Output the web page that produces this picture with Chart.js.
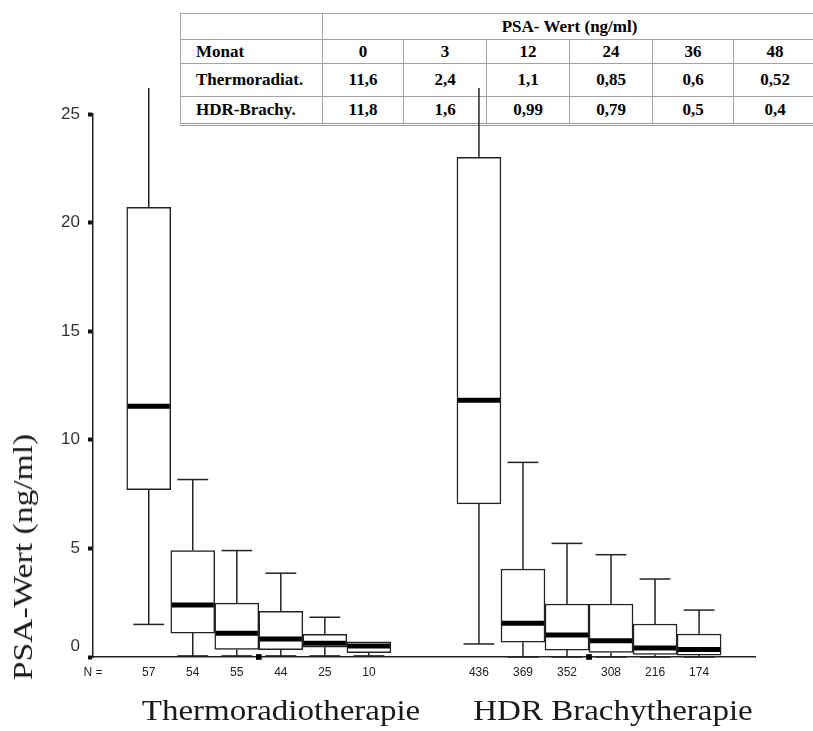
<!DOCTYPE html>
<html>
<head>
<meta charset="utf-8">
<script src="https://cdn.jsdelivr.net/npm/chart.js@4.4.1/dist/chart.umd.min.js"></script>
<style>
  html, body { margin: 0; padding: 0; background: #fff; overflow: hidden; }
  #wrap { position: relative; width: 813px; height: 731px; }
  #psaTable {
    position: absolute; left: 180px; top: 13px; z-index: 1;
    border-collapse: collapse; table-layout: fixed; width: 636px;
    font: bold 17px "Liberation Serif", "Times New Roman", serif; color: #000;
    background: #fff; border-bottom: 3px double #9a9a9a;
  }
  #psaTable td { border: 1.5px solid #a4a4a4; text-align: center; padding: 0; white-space: nowrap; }
  #psaTable td.rowHead { text-align: left; padding-left: 15px; }
  #chart { position: absolute; left: 0; top: 0; z-index: 2; }
  .title { position: absolute; z-index: 3; font-family: "Liberation Serif", "Times New Roman", serif; color: #1a1a1a; white-space: nowrap; line-height: 1; }
</style>
</head>
<body>
<div id="wrap">
  <table id="psaTable">
    <colgroup>
      <col style="width:142px"><col style="width:81px"><col style="width:83px"><col style="width:83px">
      <col style="width:83px"><col style="width:81px"><col style="width:83px">
    </colgroup>
    <tbody id="tableBody"></tbody>
  </table>
  <canvas id="chart" width="813" height="731"></canvas>
  <div class="title" id="yTitle" style="font-size:28px;left:23px;top:557px;transform:translate(-50%,-50%) rotate(-90deg) scaleX(1.2);">PSA-Wert (ng/ml)</div>
  <div class="title" style="font-size:30px;left:281px;top:695px;transform:translateX(-50%) scaleX(1.1);">Thermoradiotherapie</div>
  <div class="title" style="font-size:30px;left:613px;top:695px;transform:translateX(-50%) scaleX(1.1);">HDR Brachytherapie</div>
</div>
<script>
// table on top of the plot
const tableTitle = "PSA- Wert (ng/ml)";
const months = ["0", "3", "12", "24", "36", "48"];
const thermoTable = ["11,6", "2,4", "1,1", "0,85", "0,6", "0,52"];
const hdrTable = ["11,8", "1,6", "0,99", "0,79", "0,5", "0,4"];

// box plot values (ng/ml)
const thermoPos = [1, 2, 3, 4, 5, 6];
const thermoN = [57, 54, 55, 44, 25, 10];
const thermoLow = [1.5, 0.05, 0.05, 0.05, 0.05, 0.05];
const thermoQ1 = [7.7, 1.1, 0.35, 0.34, 0.45, 0.2];
const thermoMed = [11.55, 2.39, 1.09, 0.83, 0.63, 0.51];
const thermoQ3 = [20.7, 4.9, 2.48, 2.1, 1.04, 0.7];
const thermoHigh = [26.2, 8.17, 4.9, 3.86, 1.83, 0.7];

const hdrPos = [8.5, 9.5, 10.5, 11.5, 12.5, 13.5];
const hdrN = [436, 369, 352, 308, 216, 174];
const hdrLow = [0.6, 0, 0, 0, 0, 0];
const hdrQ1 = [7.05, 0.68, 0.32, 0.21, 0.12, 0.09];
const hdrMed = [11.82, 1.55, 1.01, 0.75, 0.41, 0.35];
const hdrQ3 = [23.0, 4.05, 2.44, 2.44, 1.52, 1.06];
const hdrHigh = [26.2, 8.96, 5.23, 4.71, 3.59, 2.16];

const groupCenters = [3.5, 11];
const nLabelPos = -0.266;
const yTicks = [0, 5, 10, 15, 20, 25];

function buildTable() {
  const rows = [
    `<tr style="height:26px"><td></td><td colspan="6">${tableTitle}</td></tr>`,
    `<tr style="height:24px"><td class="rowHead">Monat</td>${months.map((m) => `<td>${m}</td>`).join("")}</tr>`,
    `<tr style="height:33px"><td class="rowHead">Thermoradiat.</td>${thermoTable.map((v) => `<td>${v}</td>`).join("")}</tr>`,
    `<tr style="height:28px"><td class="rowHead">HDR-Brachy.</td>${hdrTable.map((v) => `<td>${v}</td>`).join("")}</tr>`,
  ];
  document.getElementById("tableBody").innerHTML = rows.join("");
}
buildTable();

const pos = thermoPos.concat(hdrPos);
const nCounts = thermoN.concat(hdrN);
const low = thermoLow.concat(hdrLow);
const q1 = thermoQ1.concat(hdrQ1);
const med = thermoMed.concat(hdrMed);
const q3 = thermoQ3.concat(hdrQ3);
const high = thermoHigh.concat(hdrHigh);

const whiskers = {
  id: "whiskers",
  afterDatasetsDraw(chart) {
    const { ctx, scales: { y } } = chart;
    const bars = chart.getDatasetMeta(0).data;
    ctx.save();
    ctx.strokeStyle = "#222";
    bars.forEach((bar, i) => {
      const x = bar.x, half = bar.width / 2, cap = bar.width * 0.35;
      ctx.lineWidth = 1.5;
      [[q3[i], high[i]], [q1[i], low[i]]].forEach(([from, to]) => {
        if (Math.abs(from - to) < 1e-6) return;
        ctx.beginPath();
        ctx.moveTo(x, y.getPixelForValue(from));
        ctx.lineTo(x, y.getPixelForValue(to));
        ctx.stroke();
        if (to <= y.max) {
          const py = y.getPixelForValue(to);
          ctx.beginPath();
          ctx.moveTo(x - cap, py);
          ctx.lineTo(x + cap, py);
          ctx.stroke();
        }
      });
      ctx.lineWidth = 5;
      ctx.strokeStyle = "#000";
      const my = y.getPixelForValue(med[i]);
      ctx.beginPath();
      ctx.moveTo(x - half + 1, my);
      ctx.lineTo(x + half - 1, my);
      ctx.stroke();
      ctx.strokeStyle = "#222";
    });
    ctx.restore();
  },
};

const sans = "'Liberation Sans', Arial, sans-serif";

new Chart(document.getElementById("chart"), {
  type: "bar",
  data: {
    datasets: [
      {
        type: "bar",
        data: pos.map((p, i) => ({ x: p, y: [q1[i], q3[i]] })),
        backgroundColor: "#fff",
        borderColor: "#222",
        borderWidth: 1.5,
        borderSkipped: false,
        categoryPercentage: 1,
        barPercentage: 1,
      },
      {
        type: "scatter",
        data: groupCenters.map((c) => ({ x: c, y: 0 })),
        pointStyle: "rect",
        radius: 4,
        backgroundColor: "#000",
        borderWidth: 0,
        clip: false,
      },
    ],
  },
  options: {
    responsive: false,
    animation: false,
    layout: { padding: { top: 114, right: 58, left: 0, bottom: 0 } },
    plugins: { legend: { display: false }, tooltip: { enabled: false } },
    scales: {
      x: {
        type: "linear",
        min: nLabelPos,
        max: 14.77,
        offset: false,
        afterBuildTicks: (s) => { s.ticks = [nLabelPos].concat(pos).map((v) => ({ value: v })); },
        afterFit: (s) => { s.height = 74; },
        ticks: {
          autoSkip: false,
          maxRotation: 0,
          padding: 2,
          color: "#222",
          font: { family: sans, size: 12 },
          callback: (v) => (v === nLabelPos ? "N =" : String(nCounts[pos.indexOf(v)])),
        },
        grid: { offset: false, drawOnChartArea: false, drawTicks: true, tickLength: 6, tickColor: "transparent" },
        border: { color: "#222", width: 1.5 },
      },
      y: {
        min: 0,
        max: 25,
        afterBuildTicks: (s) => { s.ticks = yTicks.map((v) => ({ value: v })); },
        afterFit: (s) => { s.width = 93; },
        ticks: {
          padding: 8,
          color: "#333",
          font: { family: sans, size: 17 },
          callback: (v) => (v === 0 ? ["0", ""] : String(v)),
        },
        grid: { drawOnChartArea: false, drawTicks: true, tickLength: 5, tickWidth: 4, tickColor: "#111" },
        border: { color: "#222", width: 1.5 },
      },
    },
  },
  plugins: [whiskers],
});
</script>
</body>
</html>
